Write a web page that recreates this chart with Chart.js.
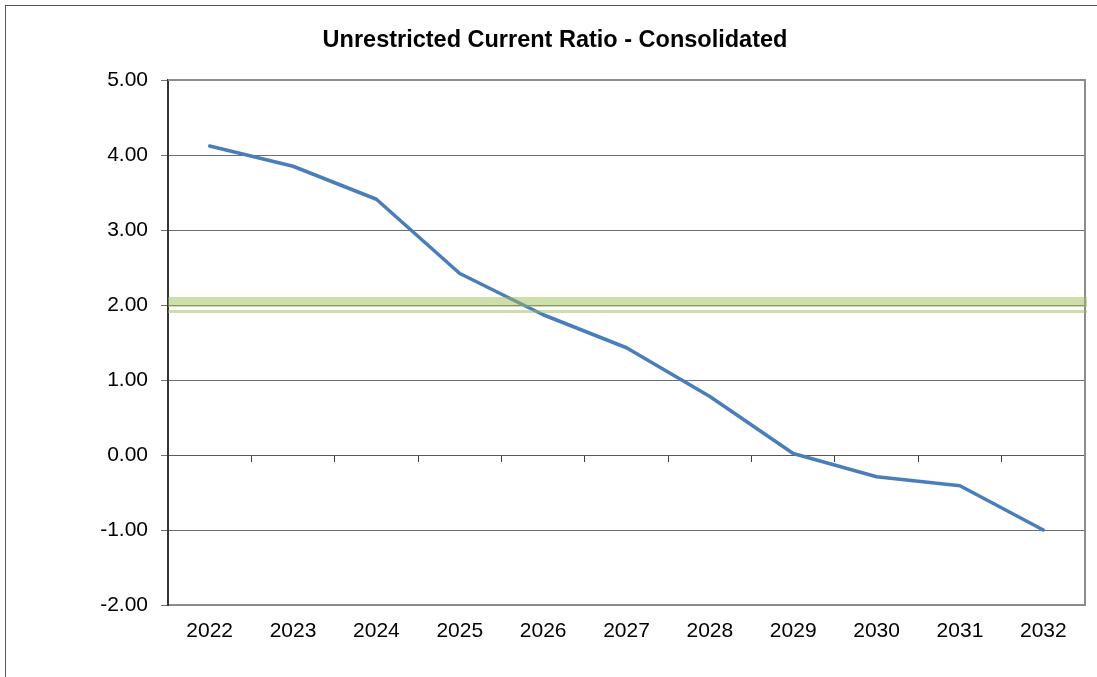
<!DOCTYPE html>
<html>
<head>
<meta charset="utf-8">
<title>Unrestricted Current Ratio - Consolidated</title>
<script src="https://cdn.jsdelivr.net/npm/chart.js@4.4.0/dist/chart.umd.min.js"></script>
<style>
    html, body { margin: 0; padding: 0; background: #fff; overflow: hidden; }
    #wrap { position: relative; width: 1097px; height: 677px; overflow: hidden; }
    #ratioChart { display: block; }
    /* outer chart frame, runs past the right/bottom edge like the original */
    #frame { position: absolute; left: 5px; top: 5px; width: 1200px; height: 800px; border: 1px solid #555; pointer-events: none; }
</style>
</head>
<body>
<div id="wrap">
    <canvas id="ratioChart" width="1097" height="677"></canvas>
    <div id="frame"></div>
</div>
<script>
// Chart data
const years = ['2022', '2023', '2024', '2025', '2026', '2027', '2028', '2029', '2030', '2031', '2032'];
const currentRatio = [4.12, 3.85, 3.41, 2.42, 1.87, 1.43, 0.78, 0.02, -0.29, -0.41, -1.00];
const targetRatio = 2.00;
const yMin = -2;
const yMax = 5;
const yStep = 1;

Chart.defaults.font.family = '"Liberation Sans", Arial, sans-serif';
Chart.defaults.color = '#000';

// Gray border on top and right of the plot area
const plotFrame = {
    id: 'plotFrame',
    beforeDatasetsDraw(chart) {
        const { ctx, chartArea: a } = chart;
        ctx.save();
        ctx.strokeStyle = '#8c8c8c';
        ctx.lineWidth = 2;
        ctx.beginPath();
        ctx.moveTo(a.left, a.top);
        ctx.lineTo(a.right, a.top);
        ctx.lineTo(a.right, a.bottom);
        ctx.stroke();
        ctx.restore();
    }
};

// Green target band at the 2.00 level, drawn over the line
const targetBand = {
    id: 'targetBand',
    afterDatasetsDraw(chart) {
        const { ctx, chartArea: a, scales } = chart;
        const y = scales.y.getPixelForValue(targetRatio);
        const w = a.right - a.left + 2;
        ctx.save();
        ctx.fillStyle = 'rgba(155, 187, 89, 0.5)';
        ctx.fillRect(a.left, y - 8, w, 10);
        ctx.fillRect(a.left, y + 5, w, 3);
        ctx.restore();
    }
};

const ctx = document.getElementById('ratioChart');

new Chart(ctx, {
    type: 'line',
    data: {
        labels: years,
        datasets: [
            {
                label: 'Unrestricted Current Ratio',
                data: currentRatio,
                borderColor: '#4a7ebb',
                backgroundColor: '#4a7ebb',
                borderWidth: 3.5,
                borderCapStyle: 'round',
                borderJoinStyle: 'round',
                tension: 0,
                pointRadius: 0,
                fill: false,
                xAxisID: 'x',
                yAxisID: 'y'
            }
        ]
    },
    options: {
        responsive: false,
        animation: false,
        layout: {
            // left padding shifts the title centre to match the original
            padding: { left: 25, right: 12, top: 0, bottom: 0 }
        },
        plugins: {
            legend: { display: false },
            tooltip: { enabled: false },
            title: {
                display: true,
                text: 'Unrestricted Current Ratio - Consolidated',
                font: { size: 23.5, weight: 'bold' },
                color: '#000',
                padding: { top: 26, bottom: 25.8 }
            }
        },
        scales: {
            x: {
                type: 'category',
                position: 'bottom',
                offset: true,
                grid: { display: true, drawOnChartArea: false, drawTicks: false },
                border: { display: true, color: '#8c8c8c', width: 2 },
                ticks: {
                    color: '#000',
                    font: { size: 21 },
                    padding: 14,
                    maxRotation: 0,
                    autoSkip: false
                },
                afterFit: (scale) => { scale.height = 72; }
            },
            // horizontal axis crossing at zero, tick marks only
            xZero: {
                type: 'category',
                position: { y: 0 },
                offset: true,
                grid: {
                    offset: true,
                    drawOnChartArea: false,
                    drawTicks: true,
                    tickLength: 6,
                    color: '#404040'
                },
                border: { display: true, color: '#5a5a5a', width: 1 },
                ticks: { display: false }
            },
            y: {
                min: yMin,
                max: yMax,
                ticks: {
                    stepSize: yStep,
                    color: '#000',
                    font: { size: 21 },
                    padding: 13,
                    callback: (value) => value.toFixed(2)
                },
                grid: { color: '#6e6e6e', tickLength: 7 },
                border: { color: '#333', width: 2 },
                afterFit: (scale) => { scale.width = 143; }
            }
        }
    },
    plugins: [plotFrame, targetBand]
});
</script>
</body>
</html>
